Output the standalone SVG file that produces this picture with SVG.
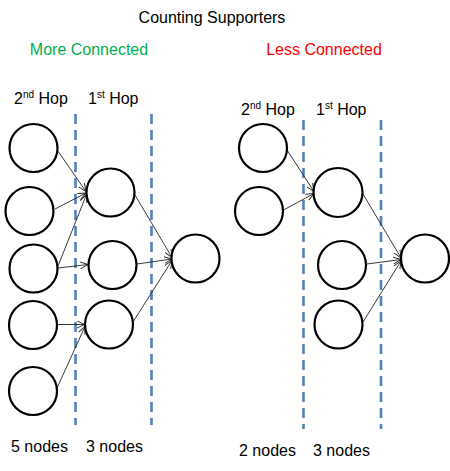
<svg xmlns="http://www.w3.org/2000/svg" width="450" height="471" viewBox="0 0 450 471">
<style>
.node{fill:#fff;stroke:#000;stroke-width:2.2}
.edge{fill:none;stroke:#222;stroke-width:0.9;marker-end:url(#arr)}
.div{stroke:#4f81bd;stroke-width:2.6;stroke-dasharray:10,6}
text{font-family:"Liberation Sans",Arial,sans-serif;font-size:16px;fill:#000}
.sup{font-size:10px}
</style>
<defs>
<marker id="arr" markerUnits="userSpaceOnUse" markerWidth="10" markerHeight="10" refX="8" refY="4" orient="auto">
<path d="M0,0.5 L8,4 L0,7.5" fill="none" stroke="#222" stroke-width="0.9"/>
</marker>
</defs>
<rect width="450" height="471" fill="#fff"/>
<g id="titles">
<text x="212" y="22.5" text-anchor="middle">Counting Supporters</text>
<text x="89" y="55" text-anchor="middle" fill="#00b050" style="fill:#00b050">More Connected</text>
<text x="324" y="55" text-anchor="middle" style="fill:#ff0000">Less Connected</text>
</g>
<g id="labels">
<text x="14" y="104">2<tspan class="sup" dy="-6">nd</tspan><tspan dy="6"> Hop</tspan></text>
<text x="88" y="104">1<tspan class="sup" dy="-6">st</tspan><tspan dy="6"> Hop</tspan></text>
<text x="241" y="114.5">2<tspan class="sup" dy="-6">nd</tspan><tspan dy="6"> Hop</tspan></text>
<text x="316" y="114.5">1<tspan class="sup" dy="-6">st</tspan><tspan dy="6"> Hop</tspan></text>
<text x="11" y="452">5 nodes</text>
<text x="86" y="452">3 nodes</text>
<text x="239" y="455.5">2 nodes</text>
<text x="313" y="455.5">3 nodes</text>
</g>
<g id="dividers">
<line class="div" x1="75.5" y1="114" x2="75.5" y2="425"/>
<line class="div" x1="151.5" y1="114" x2="151.5" y2="425"/>
<line class="div" x1="303.5" y1="120" x2="303.5" y2="429"/>
<line class="div" x1="381" y1="120" x2="381" y2="429"/>
</g>
<g id="connectors">
<line class="edge" x1="57.5" y1="150.5" x2="86" y2="191.5"/>
<line class="edge" x1="55" y1="209" x2="86" y2="193"/>
<line class="edge" x1="58" y1="266" x2="86.5" y2="194.5"/>
<line class="edge" x1="58" y1="268" x2="88" y2="264.5"/>
<line class="edge" x1="57" y1="324.5" x2="85" y2="324.5"/>
<line class="edge" x1="57" y1="388" x2="85" y2="326.5"/>
<line class="edge" x1="135" y1="195" x2="172" y2="257.5"/>
<line class="edge" x1="137" y1="264" x2="172" y2="259"/>
<line class="edge" x1="133" y1="322" x2="172" y2="260.5"/>
<line class="edge" x1="287" y1="150" x2="314" y2="191.5"/>
<line class="edge" x1="283.5" y1="210" x2="314" y2="193.5"/>
<line class="edge" x1="363" y1="194" x2="401" y2="258"/>
<line class="edge" x1="367" y1="264" x2="401" y2="259.5"/>
<line class="edge" x1="363" y1="322" x2="401" y2="261"/>
</g>
<g id="a1"><circle class="node" cx="33.5" cy="148" r="24"/></g>
<g id="a2"><circle class="node" cx="29.5" cy="211" r="24"/></g>
<g id="a3"><circle class="node" cx="33.5" cy="268.5" r="24"/></g>
<g id="a4"><circle class="node" cx="33" cy="325" r="24"/></g>
<g id="a5"><circle class="node" cx="33" cy="391" r="24"/></g>
<g id="b1"><circle class="node" cx="110.5" cy="192.5" r="24"/></g>
<g id="b2"><circle class="node" cx="112.5" cy="265" r="24"/></g>
<g id="b3"><circle class="node" cx="109" cy="324.5" r="24"/></g>
<g id="c"><circle class="node" cx="195.5" cy="258.5" r="24"/></g>
<g id="d1"><circle class="node" cx="263" cy="148" r="24"/></g>
<g id="d2"><circle class="node" cx="259" cy="211" r="24"/></g>
<g id="e1"><circle class="node" cx="338" cy="192.5" r="24.5"/></g>
<g id="e2"><circle class="node" cx="342" cy="265" r="24"/></g>
<g id="e3"><circle class="node" cx="338.5" cy="324.5" r="24"/></g>
<g id="f"><circle class="node" cx="425" cy="258.5" r="24"/></g>
</svg>
